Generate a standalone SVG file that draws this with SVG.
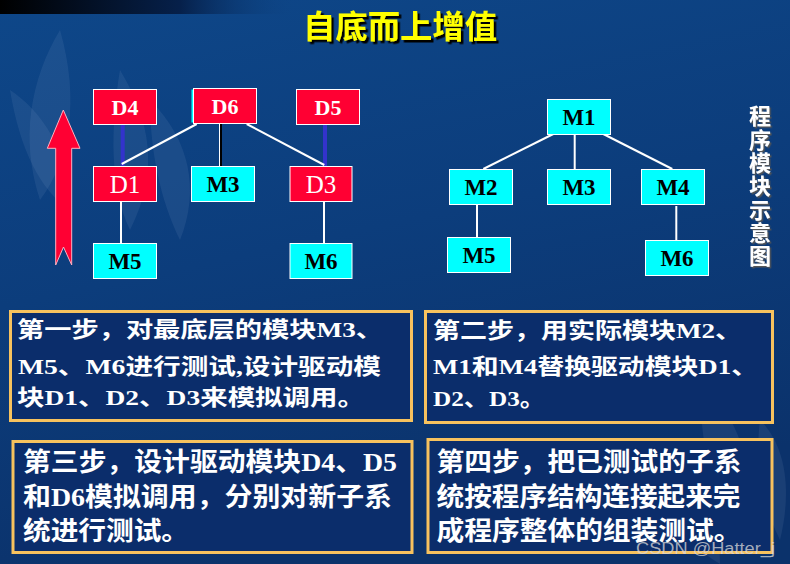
<svg xmlns="http://www.w3.org/2000/svg" width="790" height="564" viewBox="0 0 790 564">
<defs>
<linearGradient id="bg" x1="0" y1="0" x2="0.3" y2="1">
<stop offset="0" stop-color="#0e4789"/>
<stop offset="0.5" stop-color="#0c3d7c"/>
<stop offset="1" stop-color="#0b326b"/>
</linearGradient>
<linearGradient id="topband" x1="0" y1="0" x2="1" y2="0">
<stop offset="0" stop-color="#000000"/>
<stop offset="0.6" stop-color="#06204a"/>
<stop offset="1" stop-color="#0e4789" stop-opacity="0"/>
</linearGradient>
<filter id="shadowBlack" x="-10%" y="-20%" width="130%" height="150%">
<feDropShadow dx="2.5" dy="2.5" stdDeviation="0.3" flood-color="#000000" flood-opacity="1"/>
</filter>
<filter id="shadowGray" x="-30%" y="-5%" width="160%" height="115%">
<feDropShadow dx="1.5" dy="1.5" stdDeviation="0.3" flood-color="#555555" flood-opacity="1"/>
</filter>
<style>
.red{fill:#ff0033;stroke:#ffffff;stroke-width:1}
.cyan{fill:#00ffff;stroke:#ffffff;stroke-width:1}
.mlab{font-family:"Liberation Serif",serif;font-weight:bold;font-size:23px;fill:#000;text-anchor:middle}
.dtop{font-family:"Liberation Serif",serif;font-weight:bold;font-size:22px;fill:#fff;text-anchor:middle}
.dmid{font-family:"Liberation Serif",serif;font-size:25px;fill:#fff;text-anchor:middle}
.wl{stroke:#ffffff;stroke-width:2;fill:none}
.bl{stroke:#3333cc;stroke-width:4;fill:none}
.box{fill:#0b2d6b;stroke:#f7c25e;stroke-width:3}
.t1{font-family:"Noto Sans CJK SC",sans-serif;font-weight:bold;font-size:22px;fill:#fff}
.t2{font-family:"Noto Sans CJK SC",sans-serif;font-weight:bold;font-size:26px;fill:#fff}
.lat{font-family:"Liberation Serif",serif;font-weight:bold}
.petal{fill:#c8dcf0;opacity:0.08}
</style>
</defs>
<rect x="0" y="0" width="790" height="564" fill="url(#bg)"/>
<rect x="0" y="0" width="300" height="14" fill="url(#topband)"/>
<!-- faint lily background -->
<g id="bgflowers">
<path class="petal" d="M60 30 C30 80 20 140 40 200 C70 160 80 100 60 30 Z"/>
<path class="petal" d="M10 90 C40 110 70 150 70 210 C40 190 20 150 10 90 Z"/>
<path class="petal" d="M120 70 C150 120 160 170 130 230 C110 190 110 130 120 70 Z"/>
<path class="petal" d="M150 100 C190 140 200 190 180 240 C160 200 150 150 150 100 Z"/>
<path class="petal" d="M700 380 C740 420 760 470 740 540 C710 500 700 440 700 380 Z"/>
<path class="petal" d="M640 440 C690 460 720 510 720 564 C680 540 650 500 640 440 Z"/>
<path class="petal" d="M760 420 C790 450 790 500 780 540 C760 500 755 460 760 420 Z"/>
</g>
<!-- title -->
<g id="title">
<text x="400" y="38" text-anchor="middle" font-family="Noto Sans CJK SC, sans-serif" font-weight="bold" font-size="32" fill="#ffff00" textLength="194" lengthAdjust="spacingAndGlyphs" filter="url(#shadowBlack)">自底而上增值</text>
</g>
<!-- up arrow -->
<g id="arrow">
<path d="M63.3 110 L80 148.3 L71.7 148.3 L71.7 265 L63.5 247 L55.7 265 L55.7 148.3 L47.3 148.3 Z" fill="#ff0033" stroke="#ffb0c0" stroke-width="1"/>
</g>
<!-- connectors -->
<g id="connectors">
<line class="bl" x1="122.7" y1="124" x2="122.7" y2="166"/>
<line class="bl" x1="325" y1="124" x2="325" y2="166"/>
<line class="wl" x1="196.7" y1="124" x2="121.7" y2="164"/>
<line class="wl" x1="246.7" y1="124" x2="324.3" y2="165"/>
<line x1="221" y1="123" x2="221" y2="166" stroke="#000" stroke-width="2"/>
<line x1="219.5" y1="123" x2="219.5" y2="166" stroke="#fff" stroke-width="1"/>
<line class="wl" x1="121" y1="201" x2="121" y2="243"/>
<line class="wl" x1="324" y1="201" x2="324" y2="243"/>
<line class="wl" x1="553.3" y1="134" x2="483.3" y2="169"/>
<line class="wl" x1="574.7" y1="134" x2="574.7" y2="169"/>
<line class="wl" x1="603.3" y1="134" x2="672.3" y2="169"/>
<line class="wl" x1="477" y1="204" x2="477" y2="237"/>
<line class="wl" x1="676.3" y1="206" x2="676.3" y2="240"/>
</g>
<!-- left diagram nodes -->
<g id="D4"><rect class="red" x="93.5" y="89.5" width="63" height="35"/><text class="dtop" x="125" y="115">D4</text></g>
<rect x="191.5" y="89.5" width="4" height="33" fill="#00ffff"/>
<g id="D6"><rect class="red" x="193.5" y="88.5" width="63" height="35"/><text class="dtop" x="225" y="114">D6</text></g>
<g id="D5"><rect class="red" x="296.5" y="89.5" width="63" height="35"/><text class="dtop" x="328" y="115">D5</text></g>
<g id="D1"><rect class="red" x="93.5" y="166.5" width="63" height="35"/><text class="dmid" x="125" y="192.5">D1</text></g>
<g id="M3a"><rect class="cyan" x="191.5" y="166.5" width="63" height="35"/><text class="mlab" x="223" y="192">M3</text></g>
<g id="D3"><rect class="red" x="290" y="166.5" width="62" height="35"/><text class="dmid" x="321" y="192.5">D3</text></g>
<g id="M5a"><rect class="cyan" x="93.5" y="243.5" width="63" height="35"/><text class="mlab" x="125" y="269">M5</text></g>
<g id="M6a"><rect class="cyan" x="290" y="243.5" width="62" height="35"/><text class="mlab" x="321" y="269">M6</text></g>
<!-- right diagram nodes -->
<g id="M1"><rect class="cyan" x="547.5" y="99.5" width="63" height="35"/><text class="mlab" x="579" y="125">M1</text></g>
<g id="M2"><rect class="cyan" x="449.5" y="169.5" width="63" height="35"/><text class="mlab" x="481" y="195">M2</text></g>
<g id="M3b"><rect class="cyan" x="547.5" y="169.5" width="63" height="35"/><text class="mlab" x="579" y="195">M3</text></g>
<g id="M4"><rect class="cyan" x="641.5" y="169.5" width="63" height="35"/><text class="mlab" x="673" y="195">M4</text></g>
<g id="M5b"><rect class="cyan" x="447.5" y="237.5" width="63" height="35"/><text class="mlab" x="479" y="263">M5</text></g>
<g id="M6b"><rect class="cyan" x="645.5" y="240.5" width="63" height="35"/><text class="mlab" x="677" y="266">M6</text></g>
<!-- vertical label -->
<g id="vlabel">
<text x="760" y="105" writing-mode="vertical-rl" font-family="Noto Sans CJK SC, sans-serif" font-weight="bold" font-size="22" letter-spacing="1.3" fill="#fff" filter="url(#shadowGray)">程序模块示意图</text>
</g>
<!-- step boxes -->
<g id="step1">
<rect class="box" x="10.5" y="311.5" width="401" height="109"/>
<text class="t1" x="17" y="337" textLength="366" lengthAdjust="spacingAndGlyphs">第一步，对最底层的模块<tspan class="lat">M3</tspan>、</text>
<text class="t1" x="18" y="373.5" textLength="363" lengthAdjust="spacingAndGlyphs"><tspan class="lat">M5</tspan>、<tspan class="lat">M6</tspan>进行测试<tspan class="lat">,</tspan>设计驱动模</text>
<text class="t1" x="17" y="405" textLength="348" lengthAdjust="spacingAndGlyphs">块<tspan class="lat">D1</tspan>、<tspan class="lat">D2</tspan>、<tspan class="lat">D3</tspan>来模拟调用。</text>
</g>
<g id="step2">
<rect class="box" x="425.5" y="311.5" width="347" height="111"/>
<text class="t1" x="433" y="337.5" textLength="309" lengthAdjust="spacingAndGlyphs">第二步，用实际模块<tspan class="lat">M2</tspan>、</text>
<text class="t1" x="433" y="374" textLength="325" lengthAdjust="spacingAndGlyphs"><tspan class="lat">M1</tspan>和<tspan class="lat">M4</tspan>替换驱动模块<tspan class="lat">D1</tspan>、</text>
<text class="t1" x="433" y="406" textLength="112" lengthAdjust="spacingAndGlyphs"><tspan class="lat">D2</tspan>、<tspan class="lat">D3</tspan>。</text>
</g>
<g id="step3">
<rect class="box" x="13" y="441.5" width="399" height="111"/>
<text class="t2" x="23" y="471" textLength="374" lengthAdjust="spacingAndGlyphs">第三步，设计驱动模块<tspan class="lat">D4</tspan>、<tspan class="lat">D5</tspan></text>
<text class="t2" x="23" y="506" textLength="369" lengthAdjust="spacingAndGlyphs">和<tspan class="lat">D6</tspan>模拟调用，分别对新子系</text>
<text class="t2" x="23" y="539.5" textLength="166" lengthAdjust="spacingAndGlyphs">统进行测试。</text>
</g>
<g id="step4">
<rect class="box" x="428" y="439.5" width="344" height="113"/>
<text class="t2" x="436.5" y="471" textLength="305" lengthAdjust="spacingAndGlyphs">第四步，把已测试的子系</text>
<text class="t2" x="436.5" y="506" textLength="304" lengthAdjust="spacingAndGlyphs">统按程序结构连接起来完</text>
<text class="t2" x="436.5" y="539.5" textLength="305" lengthAdjust="spacingAndGlyphs">成程序整体的组装测试。</text>
</g>
<g id="watermark">
<text x="636" y="554" font-family="Liberation Sans, sans-serif" font-size="16" fill="#d8d8d8" fill-opacity="0.75" textLength="139" lengthAdjust="spacingAndGlyphs">CSDN @Hatter_j</text>
</g>
</svg>
